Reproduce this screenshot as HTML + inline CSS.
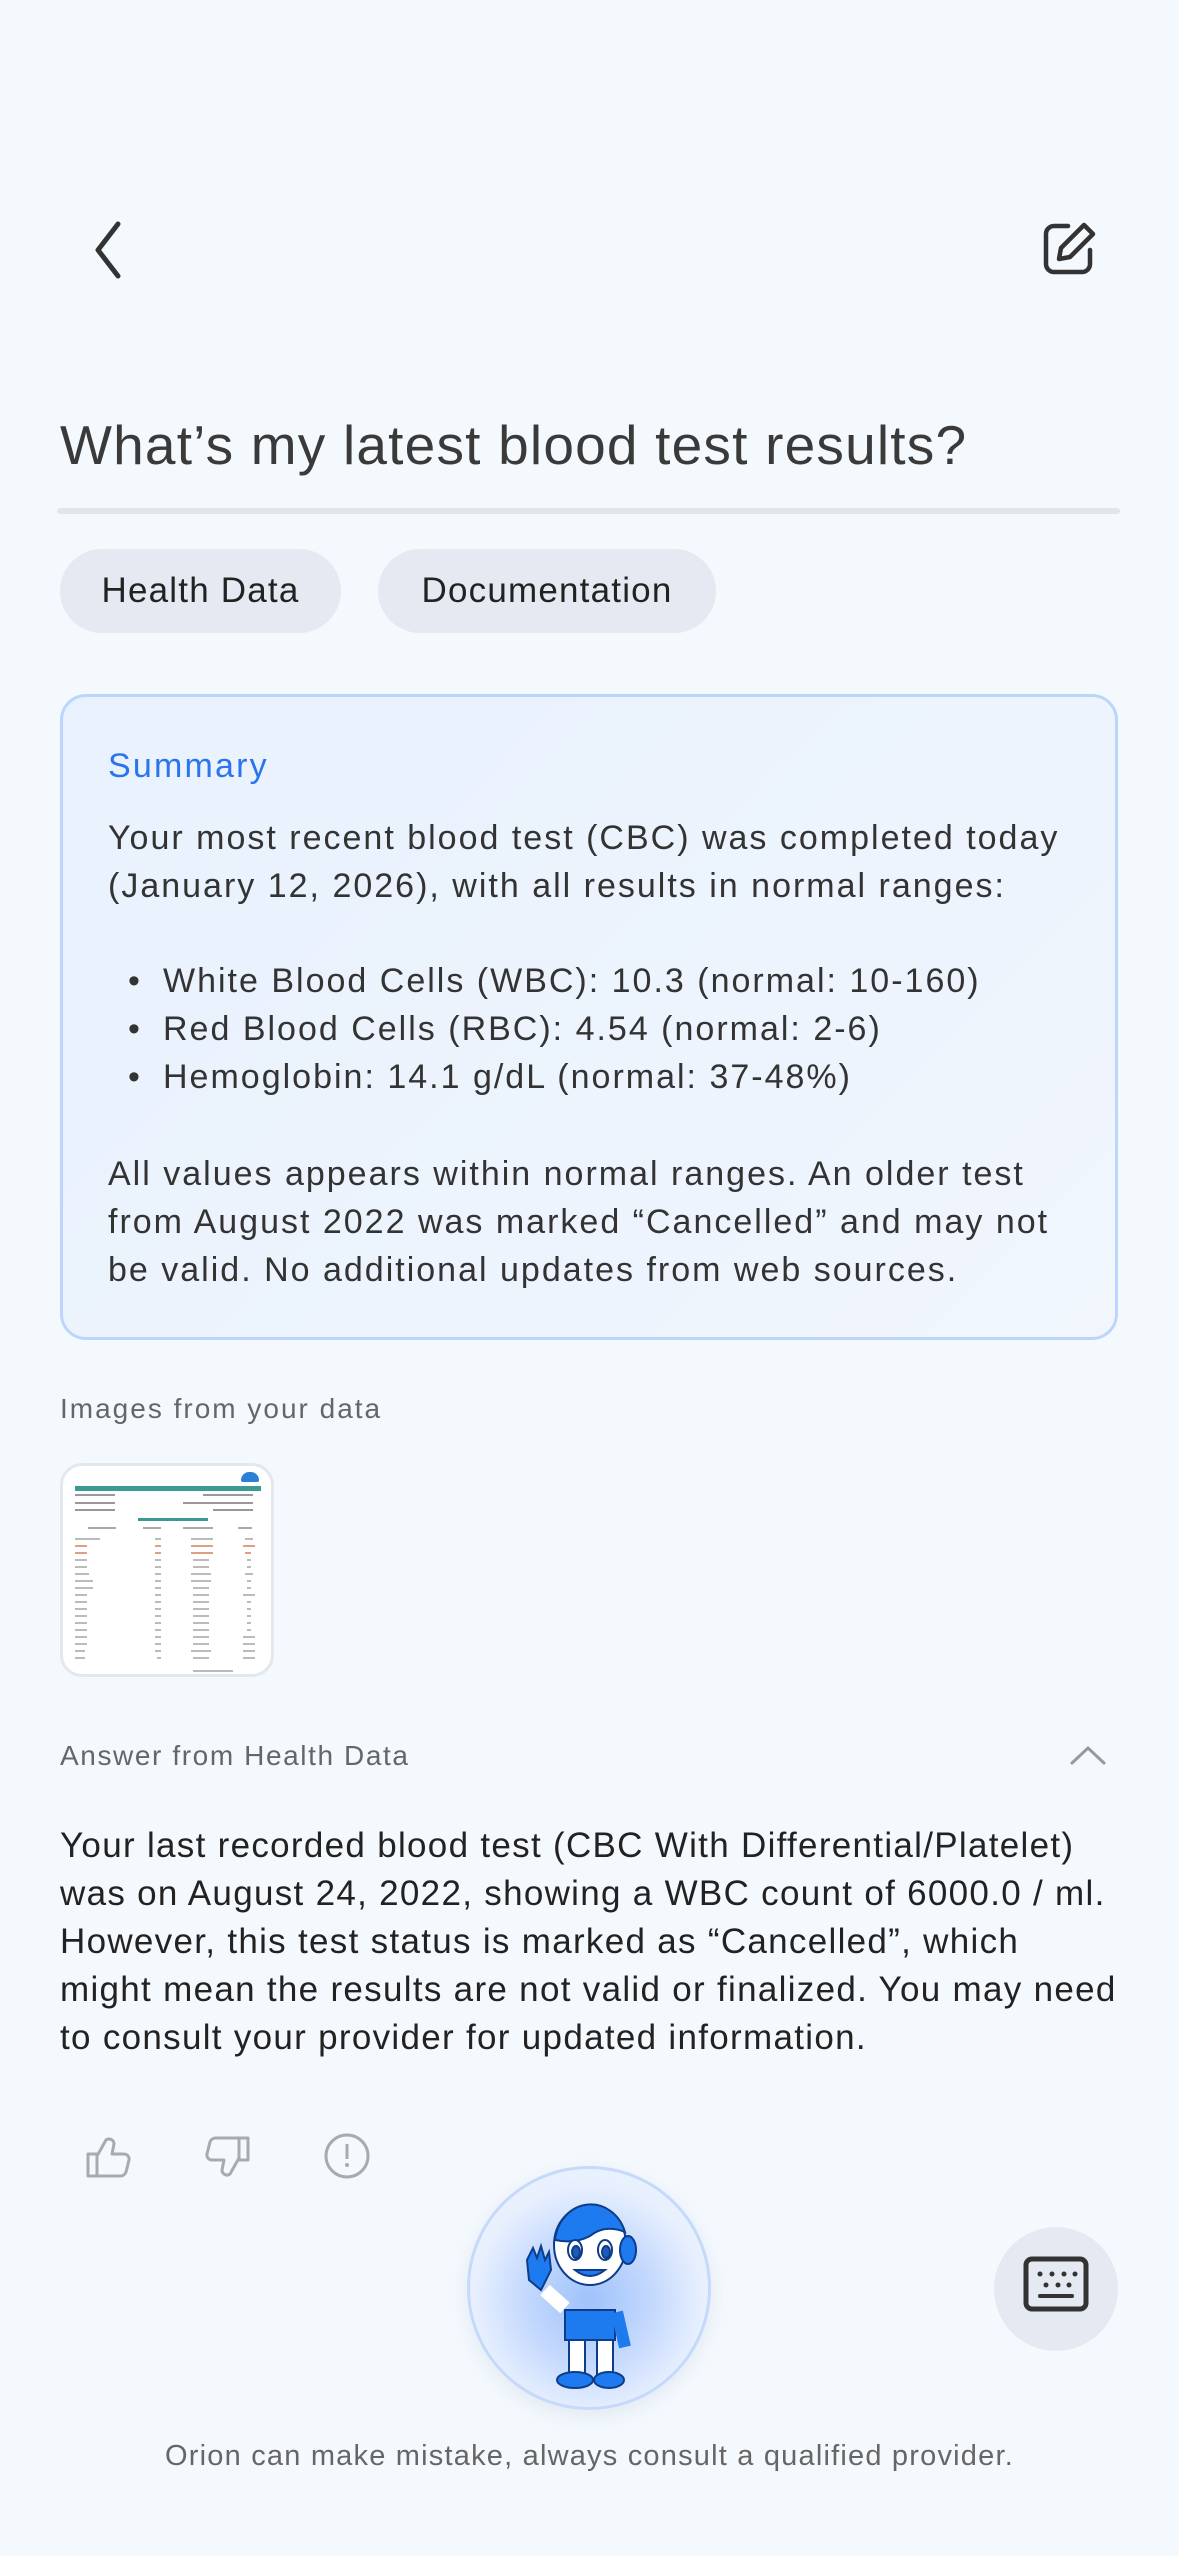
<!DOCTYPE html>
<html><head><meta charset="utf-8">
<style>
*{margin:0;padding:0;box-sizing:border-box}
body{width:1179px;height:2556px;background:#f4f9fd;font-family:"Liberation Sans",sans-serif;color:#333;position:relative;overflow:hidden}
.a{position:absolute;white-space:nowrap}
.title{left:60px;top:413px;font-size:55px;color:#3a3a3a;letter-spacing:1.2px}
.div{left:57px;top:508px;width:1063px;height:6px;background:#e3e5e8;border-radius:3px}
.chip{top:549px;height:84px;border-radius:42px;background:#e5e9f1;font-size:35px;color:#222;line-height:84px;text-align:center;letter-spacing:1.2px}
.card{left:60px;top:694px;width:1058px;height:646px;border:3px solid #bcd6fb;border-radius:26px;background:linear-gradient(135deg,#e8f1fd,#f1f6fd)}
.sum{left:108px;top:747px;font-size:34px;color:#2a74ee;letter-spacing:2.2px}
.t{font-size:34px;color:#333;letter-spacing:2px}
.ans{font-size:35px;color:#222;letter-spacing:1.3px}
.thumb{left:60px;top:1463px;width:214px;height:214px;border:3px solid #e3e8ef;border-radius:22px;background:#fff;overflow:hidden}
</style></head><body>
<svg class="a" style="left:86px;top:220px" width="40" height="60" viewBox="0 0 40 60"><path d="M32 4 L12 30 L32 56" fill="none" stroke="#333" stroke-width="5" stroke-linecap="round" stroke-linejoin="round"/></svg>
<svg class="a" style="left:1042px;top:220px" width="56" height="56" viewBox="0 0 56 56"><path d="M26 6 H12 a8 8 0 0 0 -8 8 V44 a8 8 0 0 0 8 8 H40 a8 8 0 0 0 8 -8 V30" fill="none" stroke="#333" stroke-width="4.5" stroke-linecap="round"/><path d="M42 5 l9 9 L28 37 l-11 2 l2 -11 Z" fill="none" stroke="#333" stroke-width="4.5" stroke-linejoin="round"/></svg>
<div class="a title">What’s my latest blood test results?</div>
<div class="a div"></div>
<div class="a chip" style="left:60px;width:281px">Health Data</div>
<div class="a chip" style="left:378px;width:338px">Documentation</div>
<div class="a card"></div>
<div class="a sum">Summary</div>
<div class="a t" style="left:108px;top:819px">Your most recent blood test (CBC) was completed today</div>
<div class="a t" style="left:108px;top:867px">(January 12, 2026), with all results in normal ranges:</div>
<div class="a t" style="left:128px;top:962px">•</div><div class="a t" style="left:163px;top:962px">White Blood Cells (WBC): 10.3 (normal: 10-160)</div>
<div class="a t" style="left:128px;top:1010px">•</div><div class="a t" style="left:163px;top:1010px">Red Blood Cells (RBC): 4.54 (normal: 2-6)</div>
<div class="a t" style="left:128px;top:1058px">•</div><div class="a t" style="left:163px;top:1058px">Hemoglobin: 14.1 g/dL (normal: 37-48%)</div>
<div class="a t" style="left:108px;top:1155px">All values appears within normal ranges. An older test</div>
<div class="a t" style="left:108px;top:1203px">from August 2022 was marked “Cancelled” and may not</div>
<div class="a t" style="left:108px;top:1251px">be valid. No additional updates from web sources.</div>
<div class="a" style="left:60px;top:1393px;font-size:28px;color:#666;letter-spacing:2px">Images from your data</div>
<div class="a thumb">
 <div style="position:absolute;left:12px;top:20px;width:186px;height:5px;background:#3a9a94"></div>
 <div style="position:absolute;left:178px;top:6px;width:18px;height:10px;border-radius:9px 9px 2px 2px;background:#2b7fd6"></div>
 <svg style="position:absolute;left:0;top:0" width="214" height="214">
  <g fill="#999">
  <rect x="12" y="28" width="40" height="2"/><rect x="140" y="28" width="50" height="2"/>
  <rect x="12" y="36" width="40" height="2"/><rect x="120" y="36" width="70" height="2"/>
  <rect x="12" y="43" width="40" height="2"/><rect x="150" y="43" width="40" height="2"/>
  </g>
  <rect x="75" y="52" width="70" height="3" fill="#3a9a94"/>
  <g fill="#aaa"><rect x="25" y="61" width="28" height="2"/><rect x="80" y="61" width="18" height="2"/><rect x="120" y="61" width="30" height="2"/><rect x="175" y="61" width="14" height="2"/></g>
  <g fill="#bbb">
  <rect x="12" y="72" width="25" height="2"/><rect x="92" y="72" width="6" height="2"/><rect x="128" y="72" width="22" height="2"/><rect x="182" y="72" width="8" height="2"/>
  </g>
  <g fill="#e0a080">
  <rect x="12" y="79" width="12" height="2"/><rect x="92" y="79" width="6" height="2"/><rect x="128" y="79" width="22" height="2"/><rect x="180" y="79" width="12" height="2"/>
  <rect x="12" y="86" width="12" height="2"/><rect x="92" y="86" width="6" height="2"/><rect x="128" y="86" width="22" height="2"/><rect x="182" y="86" width="6" height="2"/>
  </g>
  <g fill="#bbb">
  <rect x="12" y="93" width="12" height="2"/><rect x="92" y="93" width="6" height="2"/><rect x="130" y="93" width="16" height="2"/><rect x="184" y="93" width="4" height="2"/>
  <rect x="12" y="100" width="12" height="2"/><rect x="92" y="100" width="6" height="2"/><rect x="130" y="100" width="16" height="2"/><rect x="184" y="100" width="4" height="2"/>
  <rect x="12" y="107" width="14" height="2"/><rect x="92" y="107" width="6" height="2"/><rect x="128" y="107" width="20" height="2"/><rect x="182" y="107" width="8" height="2"/>
  <rect x="12" y="114" width="18" height="2"/><rect x="92" y="114" width="6" height="2"/><rect x="128" y="114" width="20" height="2"/><rect x="184" y="114" width="4" height="2"/>
  <rect x="12" y="121" width="18" height="2"/><rect x="92" y="121" width="6" height="2"/><rect x="130" y="121" width="16" height="2"/><rect x="184" y="121" width="4" height="2"/>
  <rect x="12" y="128" width="12" height="2"/><rect x="92" y="128" width="6" height="2"/><rect x="130" y="128" width="16" height="2"/><rect x="180" y="128" width="12" height="2"/>
  <rect x="12" y="135" width="12" height="2"/><rect x="92" y="135" width="6" height="2"/><rect x="130" y="135" width="16" height="2"/><rect x="184" y="135" width="4" height="2"/>
  <rect x="12" y="142" width="12" height="2"/><rect x="92" y="142" width="6" height="2"/><rect x="130" y="142" width="16" height="2"/><rect x="184" y="142" width="4" height="2"/>
  <rect x="12" y="149" width="12" height="2"/><rect x="92" y="149" width="6" height="2"/><rect x="130" y="149" width="16" height="2"/><rect x="184" y="149" width="4" height="2"/>
  <rect x="12" y="156" width="12" height="2"/><rect x="92" y="156" width="6" height="2"/><rect x="130" y="156" width="16" height="2"/><rect x="184" y="156" width="4" height="2"/>
  <rect x="12" y="163" width="12" height="2"/><rect x="92" y="163" width="6" height="2"/><rect x="130" y="163" width="16" height="2"/><rect x="184" y="163" width="4" height="2"/>
  <rect x="12" y="170" width="12" height="2"/><rect x="92" y="170" width="6" height="2"/><rect x="130" y="170" width="16" height="2"/><rect x="180" y="170" width="12" height="2"/>
  <rect x="12" y="177" width="12" height="2"/><rect x="92" y="177" width="6" height="2"/><rect x="130" y="177" width="16" height="2"/><rect x="180" y="177" width="12" height="2"/>
  <rect x="12" y="184" width="10" height="2"/><rect x="92" y="184" width="6" height="2"/><rect x="128" y="184" width="20" height="2"/><rect x="180" y="184" width="12" height="2"/>
  <rect x="12" y="191" width="10" height="2"/><rect x="94" y="191" width="4" height="2"/><rect x="130" y="191" width="16" height="2"/><rect x="180" y="191" width="12" height="2"/>
  <rect x="130" y="204" width="40" height="2"/>
  </g>
 </svg>
</div>
<div class="a" style="left:60px;top:1740px;font-size:28px;color:#666;letter-spacing:1.6px">Answer from Health Data</div>
<svg class="a" style="left:1070px;top:1744px" width="36" height="22"><path d="M2 19 L18 4 L34 19" fill="none" stroke="#999" stroke-width="3" stroke-linecap="round"/></svg>
<div class="a ans" style="left:60px;top:1826px">Your last recorded blood test (CBC With Differential/Platelet)</div>
<div class="a ans" style="left:60px;top:1874px">was on August 24, 2022, showing a WBC count of 6000.0 / ml.</div>
<div class="a ans" style="left:60px;top:1922px">However, this test status is marked as “Cancelled”, which</div>
<div class="a ans" style="left:60px;top:1970px">might mean the results are not valid or finalized. You may need</div>
<div class="a ans" style="left:60px;top:2018px">to consult your provider for updated information.</div>
<svg class="a" style="left:84px;top:2134px" width="48" height="46" viewBox="0 0 48 46"><path d="M4 20 h9 v22 h-9 z M13 22 l9 -16 a5 5 0 0 1 8 4 l-2 10 h12 a5 5 0 0 1 5 6 l-3 12 a6 6 0 0 1 -6 4 h-23" fill="none" stroke="#aaa" stroke-width="3" stroke-linejoin="round"/></svg>
<svg class="a" style="left:204px;top:2134px" width="48" height="46" viewBox="0 0 48 46"><g transform="rotate(180 24 23)"><path d="M4 20 h9 v22 h-9 z M13 22 l9 -16 a5 5 0 0 1 8 4 l-2 10 h12 a5 5 0 0 1 5 6 l-3 12 a6 6 0 0 1 -6 4 h-23" fill="none" stroke="#aaa" stroke-width="3" stroke-linejoin="round"/></g></svg>
<svg class="a" style="left:323px;top:2132px" width="48" height="48"><circle cx="24" cy="24" r="21" fill="none" stroke="#aaa" stroke-width="3"/><rect x="22.5" y="12" width="3" height="15" fill="#aaa"/><circle cx="24" cy="33" r="2" fill="#aaa"/></svg>
<div class="a" style="left:467px;top:2166px;width:244px;height:244px;border-radius:50%;border:3px solid #c5d9fb;background:radial-gradient(circle at 50% 55%,#9fc2fb 0%,#c3d8fd 35%,#e8f0fe 65%,#eef4fd 100%);box-shadow:0 6px 20px rgba(150,170,200,.2)"></div>
<svg class="a" style="left:505px;top:2190px" width="170" height="200" viewBox="0 0 170 200">
 <g stroke="#0d3d8a" stroke-width="2">
 <path d="M60 120 h50 v30 h-50z" fill="#1e7bef"/>
 <rect x="64" y="150" width="16" height="40" fill="#fff"/><rect x="92" y="150" width="16" height="40" fill="#fff"/>
 <ellipse cx="70" cy="190" rx="18" ry="8" fill="#1e7bef"/><ellipse cx="104" cy="190" rx="15" ry="8" fill="#1e7bef"/>
 <path d="M60 118 L40 100" stroke-width="14" stroke="#fff"/>
 <path d="M22 70 l6 -12 l4 10 l4 -12 l4 14 l4 -8 l2 18 l-10 20 l-12 -10 z" fill="#1e7bef"/>
 <path d="M112 122 l8 35" stroke-width="12" stroke="#1e7bef"/>
 <ellipse cx="85" cy="55" rx="36" ry="40" fill="#fff"/>
 <path d="M50 50 a36 40 0 0 1 70 -8 q-20 -8 -35 4 q-15 8 -35 4z" fill="#1e7bef"/>
 <ellipse cx="123" cy="60" rx="8" ry="14" fill="#1e7bef"/>
 <ellipse cx="70" cy="60" rx="7" ry="10" fill="#fff"/><ellipse cx="100" cy="60" rx="7" ry="10" fill="#fff"/>
 <ellipse cx="71" cy="62" rx="4" ry="6" fill="#1e5bb8"/><ellipse cx="101" cy="62" rx="4" ry="6" fill="#1e5bb8"/>
 <path d="M70 80 q15 12 30 0 z" fill="#1e7bef"/>
 </g>
</svg>
<div class="a" style="left:994px;top:2227px;width:124px;height:124px;border-radius:50%;background:#e5e9f1"></div>
<svg class="a" style="left:1023px;top:2256px" width="66" height="56" viewBox="0 0 66 56"><rect x="3" y="3" width="60" height="50" rx="6" fill="none" stroke="#333" stroke-width="5"/><g fill="#333"><circle cx="17" cy="18" r="2.5"/><circle cx="29" cy="18" r="2.5"/><circle cx="41" cy="18" r="2.5"/><circle cx="52" cy="18" r="2.5"/><circle cx="23" cy="29" r="2.5"/><circle cx="35" cy="29" r="2.5"/><circle cx="46" cy="29" r="2.5"/><rect x="15" y="38" width="36" height="4" rx="2"/></g></svg>
<div class="a" style="left:0;width:1179px;top:2440px;text-align:center;font-size:29px;color:#666;letter-spacing:1.2px">Orion can make mistake, always consult a qualified provider.</div>
</body></html>
